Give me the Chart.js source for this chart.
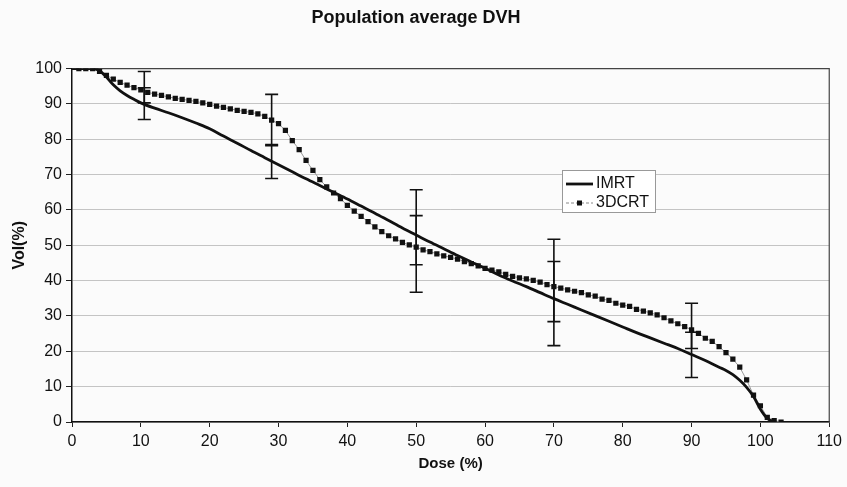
<!DOCTYPE html>
<html>
<head>
<meta charset="utf-8">
<title>Population average DVH</title>
<script src="https://cdn.jsdelivr.net/npm/chart.js@4.4.1/dist/chart.umd.min.js"></script>
<style>
  html, body { margin: 0; padding: 0; background: #fbfbfb; }
  #dvh { display: block; }
</style>
</head>
<body>
<canvas id="dvh" width="847" height="487"></canvas>
<script>
// IMRT curve (dose %, volume %)
const imrtDose = [0, 3, 4, 5, 6, 7, 8, 9, 10, 12, 14, 16, 18, 20, 22, 24, 26, 28, 30, 32, 34, 36, 38, 40,
  42, 44, 46, 48, 50, 52, 54, 56, 58, 60, 62, 64, 66, 68, 70, 72, 74, 76, 78, 80, 82, 84, 86, 88, 90,
  92, 94, 95, 96, 97, 98, 99, 100, 101, 102];
const imrtVol = [100, 100, 99.4, 97.6, 95.4, 93.7, 92.4, 91.3, 90.3, 88.8, 87.5, 86.1, 84.6, 83.0, 80.9,
  78.9, 76.8, 74.8, 72.8, 70.8, 68.8, 66.9, 65.0, 63.1, 61.1, 59.1, 57.0, 54.9, 52.9, 50.9, 49.0, 47.1,
  45.3, 43.5, 41.6, 39.9, 38.3, 36.6, 34.9, 33.3, 31.7, 30.1, 28.5, 26.9, 25.3, 23.8, 22.3, 20.8, 19.1,
  17.4, 15.5, 14.6, 13.4, 11.8, 9.8, 7.2, 3.6, 1.0, 0];

// 3DCRT curve, one marker per dose step
const crtDose = [1, 2, 3, 4, 5, 6, 7, 8, 9, 10, 11, 12, 13, 14, 15, 16, 17, 18, 19, 20,
  21, 22, 23, 24, 25, 26, 27, 28, 29, 30, 31, 32, 33, 34, 35, 36, 37, 38, 39, 40,
  41, 42, 43, 44, 45, 46, 47, 48, 49, 50, 51, 52, 53, 54, 55, 56, 57, 58, 59, 60,
  61, 62, 63, 64, 65, 66, 67, 68, 69, 70, 71, 72, 73, 74, 75, 76, 77, 78, 79, 80,
  81, 82, 83, 84, 85, 86, 87, 88, 89, 90, 91, 92, 93, 94, 95, 96, 97, 98, 99, 100,
  101, 102, 103];
const crtVol = [100, 100, 100, 99.2, 98.1, 97.0, 96.1, 95.3, 94.6, 94.0, 93.3, 92.8, 92.4, 92.0, 91.6,
  91.3, 91.0, 90.7, 90.3, 89.9, 89.4, 89.0, 88.6, 88.2, 87.9, 87.6, 87.2, 86.5, 85.4, 84.4,
  82.5, 79.6, 77.1, 74.0, 71.2, 68.6, 66.5, 64.8, 63.2, 61.3, 59.7, 58.2, 56.7, 55.2, 53.9,
  52.7, 51.8, 50.8, 50.1, 49.5, 48.7, 48.2, 47.6, 47.0, 46.6, 46.1, 45.4, 44.8, 44.2, 43.5,
  43.0, 42.5, 41.8, 41.2, 40.8, 40.5, 40.1, 39.6, 38.9, 38.3, 37.9, 37.4, 37.0, 36.6, 36.0,
  35.6, 34.8, 34.4, 33.6, 33.1, 32.7, 31.9, 31.4, 30.9, 30.3, 29.5, 28.6, 27.8, 27.0, 26.1,
  25.1, 23.7, 22.8, 21.3, 19.6, 17.8, 15.5, 11.9, 7.6, 4.6, 1.3, 0.4, 0];

// error bars (low / high volume at each dose)
const errDose = [10.5, 29, 50, 70, 90];
const imrtErrLow = [85.6, 68.9, 36.7, 21.6, 12.6];
const imrtErrHigh = [94.6, 78.5, 65.7, 51.7, 25.4];
const crtErrLow = [90.3, 78.2, 44.5, 28.4, 20.8];
const crtErrHigh = [99.2, 92.7, 58.4, 45.4, 33.6];

const xTicks = [0, 10, 20, 30, 40, 50, 60, 70, 80, 90, 100, 110];
const yTicks = [0, 10, 20, 30, 40, 50, 60, 70, 80, 90, 100];

const FONT = "'Liberation Sans', Arial, sans-serif";

function pairs(xs, ys) {
  return xs.map((x, i) => ({x: x, y: ys[i]}));
}

// vertical error bars with caps
const errorBars = {
  id: 'errorBars',
  afterDatasetsDraw(chart) {
    const ctx = chart.ctx;
    const xs = chart.scales.x, ys = chart.scales.y;
    ctx.save();
    ctx.strokeStyle = '#111';
    ctx.lineWidth = 1.6;
    [[imrtErrLow, imrtErrHigh], [crtErrLow, crtErrHigh]].forEach(set => {
      errDose.forEach((d, i) => {
        const px = xs.getPixelForValue(d);
        const lo = ys.getPixelForValue(set[0][i]);
        const hi = ys.getPixelForValue(set[1][i]);
        ctx.beginPath();
        ctx.moveTo(px, lo); ctx.lineTo(px, hi);
        ctx.moveTo(px - 6.5, lo); ctx.lineTo(px + 6.5, lo);
        ctx.moveTo(px - 6.5, hi); ctx.lineTo(px + 6.5, hi);
        ctx.stroke();
      });
    });
    ctx.restore();
  }
};

// top/right frame of the plot area
const frame = {
  id: 'frame',
  beforeDatasetsDraw(chart) {
    const {ctx, chartArea: a} = chart;
    ctx.save();
    ctx.strokeStyle = '#444';
    ctx.lineWidth = 1.2;
    ctx.beginPath();
    ctx.moveTo(a.left, a.top); ctx.lineTo(a.right, a.top); ctx.lineTo(a.right, a.bottom);
    ctx.stroke();
    ctx.restore();
  }
};

// legend box inside the plot
const legendBox = {
  id: 'legendBox',
  afterDraw(chart) {
    const ctx = chart.ctx;
    const bx = 562, by = 170, bw = 93, bh = 42;
    ctx.save();
    ctx.fillStyle = '#fff';
    ctx.fillRect(bx, by, bw, bh);
    ctx.strokeStyle = '#999';
    ctx.lineWidth = 1;
    ctx.strokeRect(bx + 0.5, by + 0.5, bw, bh);

    ctx.strokeStyle = '#111';
    ctx.lineWidth = 2.8;
    ctx.beginPath(); ctx.moveTo(566, 184); ctx.lineTo(593, 184); ctx.stroke();

    ctx.strokeStyle = '#888';
    ctx.lineWidth = 1;
    ctx.setLineDash([3, 2]);
    ctx.beginPath(); ctx.moveTo(566, 203); ctx.lineTo(593, 203); ctx.stroke();
    ctx.setLineDash([]);
    ctx.fillStyle = '#111';
    ctx.fillRect(577, 200.5, 5, 5);

    ctx.font = '16px ' + FONT;
    ctx.textBaseline = 'middle';
    ctx.fillText('IMRT', 596, 184);
    ctx.fillText('3DCRT', 596, 203);
    ctx.restore();
  }
};

const ctx = document.getElementById('dvh').getContext('2d');
new Chart(ctx, {
  type: 'line',
  data: {
    datasets: [
      {
        label: 'IMRT',
        data: pairs(imrtDose, imrtVol),
        borderColor: '#111',
        borderWidth: 2.8,
        pointRadius: 0,
        cubicInterpolationMode: 'monotone',
        order: 1
      },
      {
        label: '3DCRT',
        data: pairs(crtDose, crtVol),
        borderColor: '#999',
        borderWidth: 1,
        pointStyle: 'rect',
        pointRadius: 3.7,
        pointBackgroundColor: '#111',
        pointBorderWidth: 0,
        order: 2
      }
    ]
  },
  options: {
    responsive: false,
    animation: false,
    devicePixelRatio: 1,
    layout: { padding: { left: 0, right: 15, top: 0, bottom: 0 } },
    plugins: {
      legend: { display: false },
      tooltip: { enabled: false },
      title: {
        display: true,
        text: 'Population average DVH',
        color: '#111',
        font: { family: FONT, size: 18, weight: 'bold' },
        padding: { top: 7, bottom: 40 }
      }
    },
    scales: {
      x: {
        type: 'linear',
        min: 0, max: 110,
        afterBuildTicks: s => { s.ticks = xTicks.map(v => ({value: v})); },
        afterFit: s => { s.height = 65; },
        grid: { drawOnChartArea: false, tickLength: 5, tickColor: '#222' },
        border: { color: '#111', width: 1.5 },
        ticks: { color: '#111', padding: 5, maxRotation: 0, font: { family: FONT, size: 16 } },
        title: {
          display: true, text: 'Dose (%)', color: '#111',
          font: { family: FONT, size: 15, weight: 'bold' },
          padding: { top: 0, bottom: 14 }
        }
      },
      y: {
        min: 0, max: 100,
        afterBuildTicks: s => { s.ticks = yTicks.map(v => ({value: v})); },
        afterFit: s => { s.width = 72; },
        grid: { color: '#c4c4c4', lineWidth: 1, tickLength: 6, tickColor: '#222' },
        border: { color: '#111', width: 1.5 },
        ticks: { color: '#111', padding: 4, font: { family: FONT, size: 16 } },
        title: {
          display: true, text: 'Vol(%)', color: '#111',
          font: { family: FONT, size: 16, weight: 'bold' },
          padding: { top: 10, bottom: 0 }
        }
      }
    }
  },
  plugins: [frame, errorBars, legendBox]
});
</script>
</body>
</html>
